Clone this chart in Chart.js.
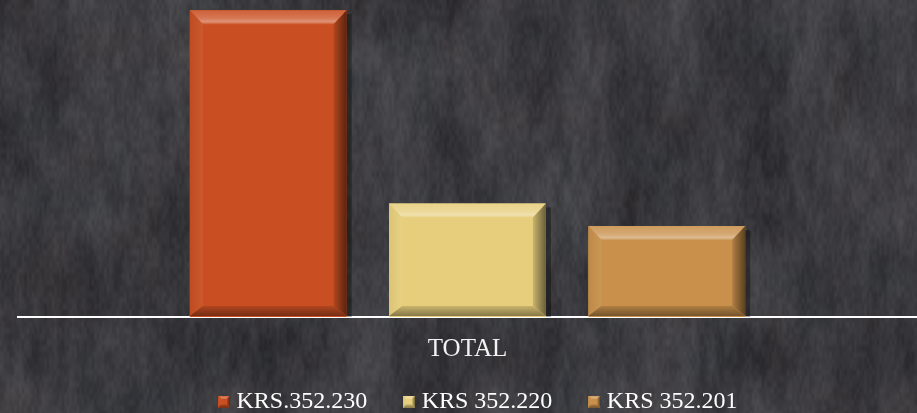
<!DOCTYPE html>
<html>
<head>
<meta charset="utf-8">
<script src="https://cdn.jsdelivr.net/npm/chart.js@4/dist/chart.umd.min.js"></script>
<style>
html,body{margin:0;padding:0;width:917px;height:413px;overflow:hidden;background:#3b3a3d;}
#wrap{position:relative;width:917px;height:413px;background:#3a393c;}
canvas{position:absolute;left:0;top:0;}
</style>
</head>
<body>
<div id="wrap"><canvas id="bg" width="917" height="413"></canvas><canvas id="c" width="917" height="413"></canvas></div>
<script>
// ---- data ----
const categories = ['TOTAL'];
const seriesNames = ['KRS.352.230', 'KRS 352.220', 'KRS 352.201'];
const seriesA = [27];
const seriesB = [10];
const seriesC = [8];
const yMax = 27.9;

// ---- styles ----
const faceColors = ['#C94F22', '#E6CE7C', '#C8904B'];

// background stone texture (deterministic, decorative only)
(function(){
  const cv = document.getElementById('bg');
  const ctx = cv.getContext('2d');
  const W = cv.width, H = cv.height;
  const img = ctx.createImageData(W, H);
  function hash(i, j){ const s = Math.sin(i * 127.1 + j * 311.7) * 43758.5453; return s - Math.floor(s); }
  function sm(t){ return t * t * (3 - 2 * t); }
  function vn(x, y){
    const i = Math.floor(x), j = Math.floor(y), fx = sm(x - i), fy = sm(y - j);
    const a = hash(i, j), b = hash(i + 1, j), c = hash(i, j + 1), d = hash(i + 1, j + 1);
    return (a * (1 - fx) + b * fx) * (1 - fy) + (c * (1 - fx) + d * fx) * fy;
  }
  for (let y = 0; y < H; y++) {
    for (let x = 0; x < W; x++) {
      const n = 0.45 * vn(x / 45, y / 70) + 0.3 * vn(x / 9, y / 28 + 7) + 0.25 * vn(x / 2.5, y / 6 + 13);
      const t = 0.55 * vn(x / 30 + 3, y / 40);
      const v = 33 + n * 48;
      const k = (y * W + x) * 4;
      img.data[k] = v + t * 6;
      img.data[k + 1] = v + 1;
      img.data[k + 2] = v + 6 - t * 4;
      img.data[k + 3] = 255;
    }
  }
  ctx.putImageData(img, 0, 0);
})();

function rgbOf(hex){return [parseInt(hex.slice(1,3),16),parseInt(hex.slice(3,5),16),parseInt(hex.slice(5,7),16)];}
function shade(hex, amt){
  const c = rgbOf(hex).map(v => amt >= 0 ? v + (255 - v) * amt : v * (1 + amt));
  return 'rgb(' + c.map(v => Math.round(v)).join(',') + ')';
}
function poly(ctx, pts, fill){
  ctx.beginPath();
  ctx.moveTo(pts[0][0], pts[0][1]);
  for (let k = 1; k < pts.length; k++) ctx.lineTo(pts[k][0], pts[k][1]);
  ctx.closePath();
  ctx.fillStyle = fill;
  ctx.fill();
}
function drawBevel(ctx, L, T, R, B, c, bt, bs, bb){
  let g = ctx.createLinearGradient(0, T, 0, T + bt);
  g.addColorStop(0, shade(c, 0.10));
  g.addColorStop(0.55, shade(c, 0.22));
  g.addColorStop(0.82, shade(c, 0.38));
  g.addColorStop(1, shade(c, 0.08));
  poly(ctx, [[L,T],[R,T],[R-bs,T+bt],[L+bs,T+bt]], g);
  g = ctx.createLinearGradient(L, 0, L + bs, 0);
  g.addColorStop(0, shade(c, -0.05));
  g.addColorStop(1, shade(c, 0.06));
  poly(ctx, [[L,T],[L+bs,T+bt],[L+bs,B-bb],[L,B]], g);
  g = ctx.createLinearGradient(R - bs, 0, R, 0);
  g.addColorStop(0, shade(c, -0.12));
  g.addColorStop(1, shade(c, -0.55));
  poly(ctx, [[R,T],[R,B],[R-bs,B-bb],[R-bs,T+bt]], g);
  g = ctx.createLinearGradient(0, B - bb, 0, B);
  g.addColorStop(0, shade(c, -0.12));
  g.addColorStop(1, shade(c, -0.42));
  poly(ctx, [[L,B],[R,B],[R-bs,B-bb],[L+bs,B-bb]], g);
}

const legendIcons = faceColors.map(c => {
  const cv = document.createElement('canvas');
  cv.width = 12; cv.height = 12;
  const x = cv.getContext('2d');
  x.fillStyle = c; x.fillRect(0, 0, 12, 12);
  drawBevel(x, 0, 0, 12, 12, c, 3, 3, 3);
  return cv;
});

const bevelPlugin = {
  id: 'bevel',
  afterDatasetsDraw(chart){
    const ctx = chart.ctx;
    chart.data.datasets.forEach((ds, i) => {
      const meta = chart.getDatasetMeta(i);
      meta.data.forEach(el => {
        const p = el.getProps(['x','y','base','width'], true);
        const L = p.x - p.width/2, R = p.x + p.width/2;
        const T = Math.min(p.y, p.base), B = Math.max(p.y, p.base);
        ctx.save();
        ctx.fillStyle = 'rgba(0,0,0,0.35)';
        ctx.fillRect(R, T + 4, 5, B - T - 4);
        drawBevel(ctx, L, T, R, B - 1, faceColors[i], 14, 13, 10);
        ctx.restore();
      });
    });
  }
};

const legendShift = {
  id: 'legendShift',
  afterLayout(chart){
    const lg = chart.legend;
    if (lg) { lg.left += 13; lg.right += 13; lg.top -= 15; }
  }
};

new Chart(document.getElementById('c'), {
  type: 'bar',
  data: {
    labels: categories,
    datasets: [
      { label: seriesNames[0], data: seriesA, backgroundColor: faceColors[0], borderWidth: 0 },
      { label: seriesNames[1], data: seriesB, backgroundColor: faceColors[1], borderWidth: 0 },
      { label: seriesNames[2], data: seriesC, backgroundColor: faceColors[2], borderWidth: 0 }
    ]
  },
  options: {
    responsive: false,
    animation: false,
    events: [],
    layout: { padding: { left: 18, right: 0, top: 0, bottom: 0 } },
    datasets: { bar: { categoryPercentage: 0.665, barPercentage: 0.787 } },
    scales: {
      y: { display: false, min: 0, max: yMax },
      x: {
        grid: { display: false, drawTicks: false },
        border: { display: true, color: '#ffffff', width: 2 },
        ticks: { color: '#f2f2f2', padding: 17, font: { family: 'Liberation Serif', size: 25 } },
        afterFit(s){ s.height = 46; }
      }
    },
    plugins: {
      tooltip: { enabled: false },
      legend: {
        position: 'bottom',
        maxHeight: 50,
        labels: {
          usePointStyle: true,
          boxWidth: 1,
          boxHeight: 12,
          padding: 41.5,
          color: '#ffffff',
          font: { family: 'Liberation Serif', size: 24 },
          generateLabels(chart){
            const items = Chart.defaults.plugins.legend.labels.generateLabels(chart);
            items.forEach((it, i) => { it.pointStyle = legendIcons[i]; it.fontColor = '#ffffff'; });
            return items;
          }
        }
      }
    }
  },
  plugins: [bevelPlugin, legendShift]
});
</script>
</body>
</html>
